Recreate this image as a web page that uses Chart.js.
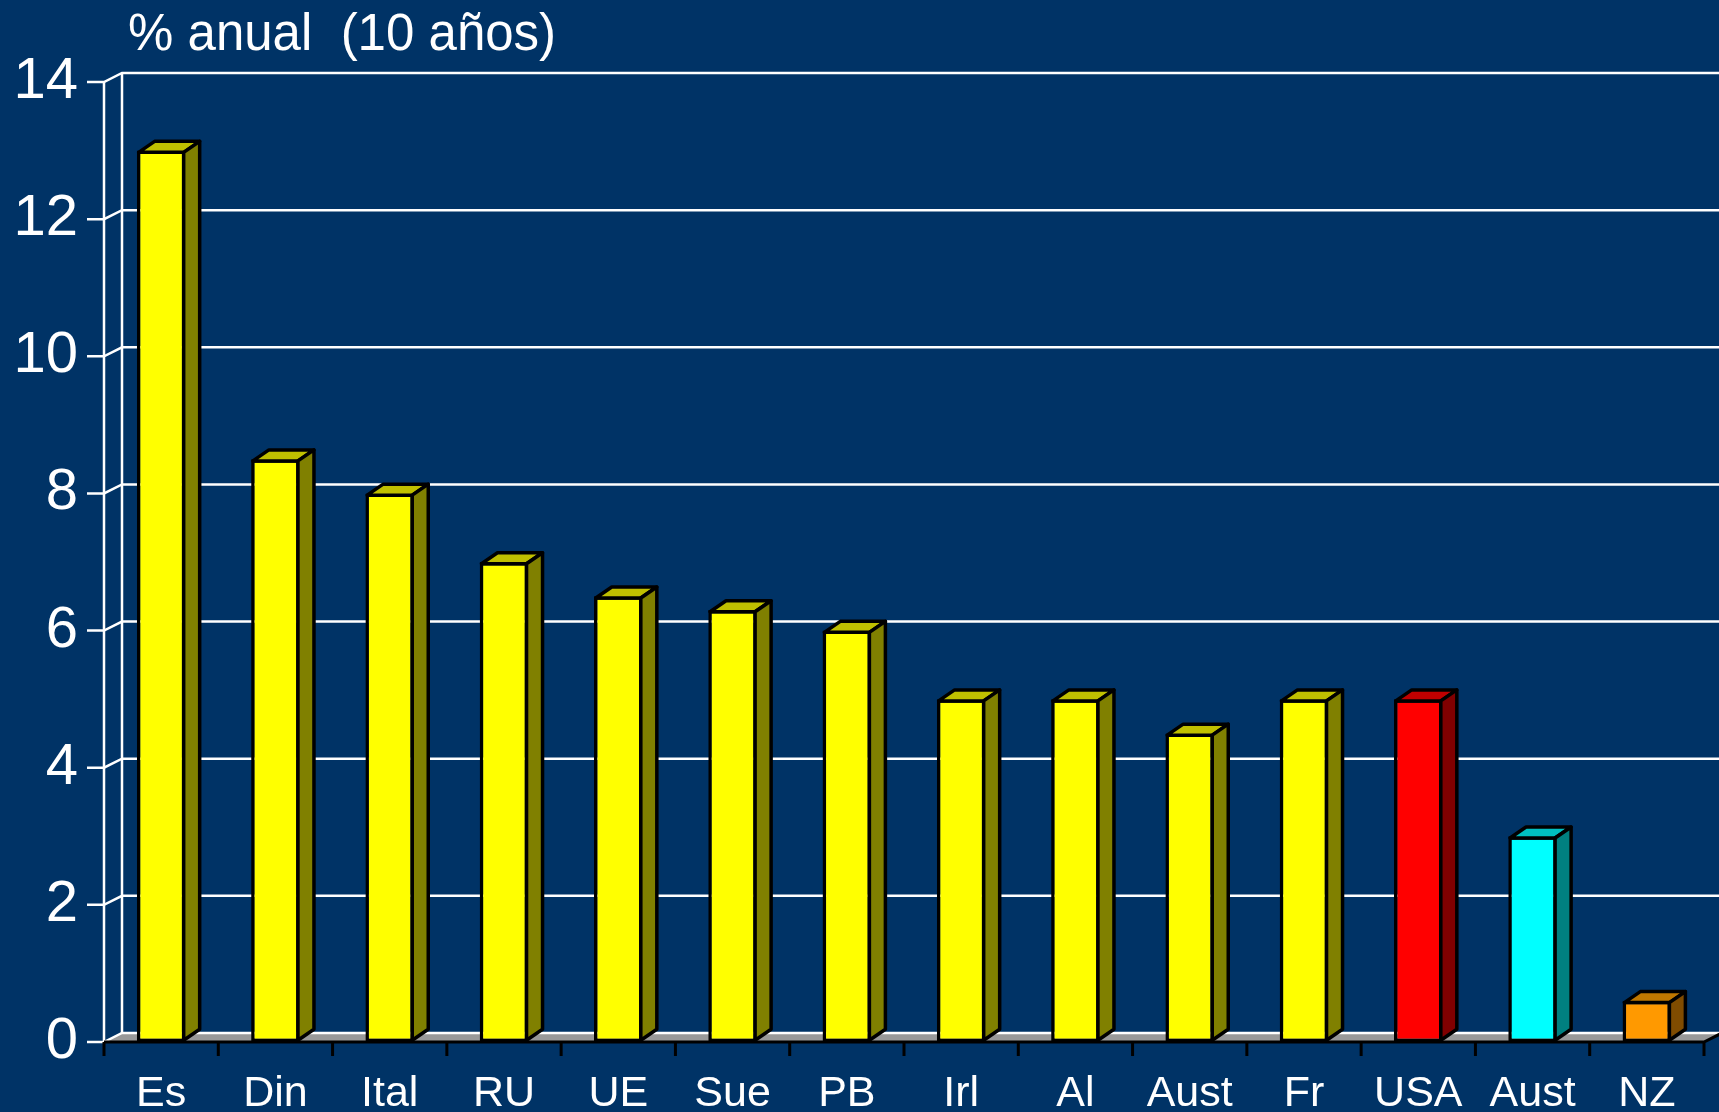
<!DOCTYPE html>
<html>
<head>
<meta charset="utf-8">
<script src="https://cdn.jsdelivr.net/npm/chart.js@4.4.1/dist/chart.umd.min.js"></script>
<style>
  html, body { margin: 0; padding: 0; background: #003366; }
  #wrap { width: 1719px; height: 1112px; }
</style>
</head>
<body>
<div id="wrap"><canvas id="grafico"></canvas></div>
<script>
const paises = ['Es', 'Din', 'Ital', 'RU', 'UE', 'Sue', 'PB', 'Irl', 'Al', 'Aust', 'Fr', 'USA', 'Aust', 'NZ'];
const crecimiento = [13, 8.5, 8, 7, 6.5, 6.3, 6, 5, 5, 4.5, 5, 5, 3, 0.6];
const ejeY = [0, 2, 4, 6, 8, 10, 12, 14];
const titulo = '% anual  (10 años)';

// colores de cada cara
const frente = ['#ffff00','#ffff00','#ffff00','#ffff00','#ffff00','#ffff00','#ffff00','#ffff00','#ffff00','#ffff00','#ffff00','#ff0000','#00ffff','#ff9900'];
const tapa = ['#c0c000','#c0c000','#c0c000','#c0c000','#c0c000','#c0c000','#c0c000','#c0c000','#c0c000','#c0c000','#c0c000','#c00000','#00c0c0','#c07800'];
const lateral = ['#808000','#808000','#808000','#808000','#808000','#808000','#808000','#808000','#808000','#808000','#808000','#800000','#008080','#804c00'];

const FONDO = '#003366';
const FUENTE = '"Liberation Sans", Arial, sans-serif';
const PARED_X = 18, PARED_Y = 9;   // fondo en 3D
const BARRA_X = 16, BARRA_Y = 11;  // profundidad de las barras

const tresD = {
  id: 'tresD',
  beforeDraw(chart) {
    const c = chart.ctx;
    c.save();
    c.fillStyle = FONDO;
    c.fillRect(0, 0, chart.width, chart.height);
    c.restore();
  },
  beforeDatasetsDraw(chart) {
    const c = chart.ctx;
    const a = chart.chartArea;
    const {x, y} = chart.scales;
    const b = y.getPixelForValue(0);
    const t = y.getPixelForValue(14);
    c.save();

    // suelo
    c.beginPath();
    c.moveTo(a.left, b);
    c.lineTo(a.right, b);
    c.lineTo(a.right + PARED_X, b - PARED_Y);
    c.lineTo(a.left + PARED_X, b - PARED_Y);
    c.closePath();
    c.fillStyle = '#999999';
    c.fill();

    c.lineWidth = 2.5;
    c.strokeStyle = '#ffffff';
    ejeY.forEach(v => {
      const py = y.getPixelForValue(v);
      c.beginPath();
      c.moveTo(a.left - 17, py);
      c.lineTo(a.left, py);
      c.lineTo(a.left + PARED_X, py - PARED_Y);
      c.lineTo(chart.width, py - PARED_Y);
      c.stroke();
    });

    // ejes verticales (delante y fondo)
    c.beginPath();
    c.moveTo(a.left, t);
    c.lineTo(a.left, b);
    c.moveTo(a.left + PARED_X, t - PARED_Y);
    c.lineTo(a.left + PARED_X, b - PARED_Y);
    c.stroke();

    // eje x negro con marcas
    c.strokeStyle = '#000000';
    c.lineWidth = 3;
    c.beginPath();
    c.moveTo(a.left, b);
    c.lineTo(a.right, b);
    c.lineTo(a.right + PARED_X, b - PARED_Y);
    const mitad = (x.getPixelForValue(1) - x.getPixelForValue(0)) / 2;
    for (let i = 0; i <= paises.length; i++) {
      const px = x.getPixelForValue(i) - mitad;
      c.moveTo(px, b);
      c.lineTo(px, b + 14);
    }
    c.stroke();
    c.restore();
  },
  afterDatasetsDraw(chart) {
    const c = chart.ctx;
    const meta = chart.getDatasetMeta(0);
    c.save();
    c.lineWidth = 3.5;
    c.strokeStyle = '#000000';
    c.lineJoin = 'round';
    meta.data.forEach((bar, i) => {
      const p = bar.getProps(['x', 'y', 'width', 'base'], true);
      const l = p.x - p.width / 2 + 1.75;
      const r = p.x + p.width / 2 - 1.75;
      const top = p.y + 1.75;
      const base = p.base - 1.75;
      c.beginPath();
      c.moveTo(l, top);
      c.lineTo(l + BARRA_X, top - BARRA_Y);
      c.lineTo(r + BARRA_X, top - BARRA_Y);
      c.lineTo(r, top);
      c.closePath();
      c.fillStyle = tapa[i];
      c.fill();
      c.stroke();
      c.beginPath();
      c.moveTo(r, top);
      c.lineTo(r + BARRA_X, top - BARRA_Y);
      c.lineTo(r + BARRA_X, base - BARRA_Y);
      c.lineTo(r, base);
      c.closePath();
      c.fillStyle = lateral[i];
      c.fill();
      c.stroke();
    });
    c.restore();
  },
  afterDraw(chart) {
    const c = chart.ctx;
    c.save();
    c.fillStyle = '#ffffff';
    c.font = '51px ' + FUENTE;
    c.textBaseline = 'alphabetic';
    c.fillText(titulo, 128, 50);
    c.restore();
  }
};

const grafico = new Chart(document.getElementById('grafico'), {
  type: 'bar',
  data: {
    labels: paises,
    datasets: [{
      data: crecimiento,
      backgroundColor: frente,
      borderColor: '#000000',
      borderWidth: 3.5,
      borderSkipped: false,
      barPercentage: 0.425,
      categoryPercentage: 1
    }]
  },
  options: {
    responsive: true,
    maintainAspectRatio: false,
    animation: false,
    layout: { padding: { top: 82, right: 15, left: 0, bottom: 0 } },
    plugins: {
      legend: { display: false },
      tooltip: { enabled: false }
    },
    scales: {
      x: {
        grid: { display: false, drawTicks: false },
        border: { display: false },
        ticks: {
          color: '#ffffff',
          font: { family: FUENTE, size: 43 },
          padding: 26,
          autoSkip: false,
          maxRotation: 0
        },
        afterFit(scale) { scale.height = 70; }
      },
      y: {
        min: 0,
        max: 14,
        grid: { display: false, drawTicks: false },
        border: { display: false },
        ticks: {
          stepSize: 2,
          color: '#ffffff',
          font: { family: FUENTE, size: 58 },
          padding: 26
        },
        afterFit(scale) { scale.width = 104; }
      }
    }
  },
  plugins: [tresD]
});
</script>
</body>
</html>
